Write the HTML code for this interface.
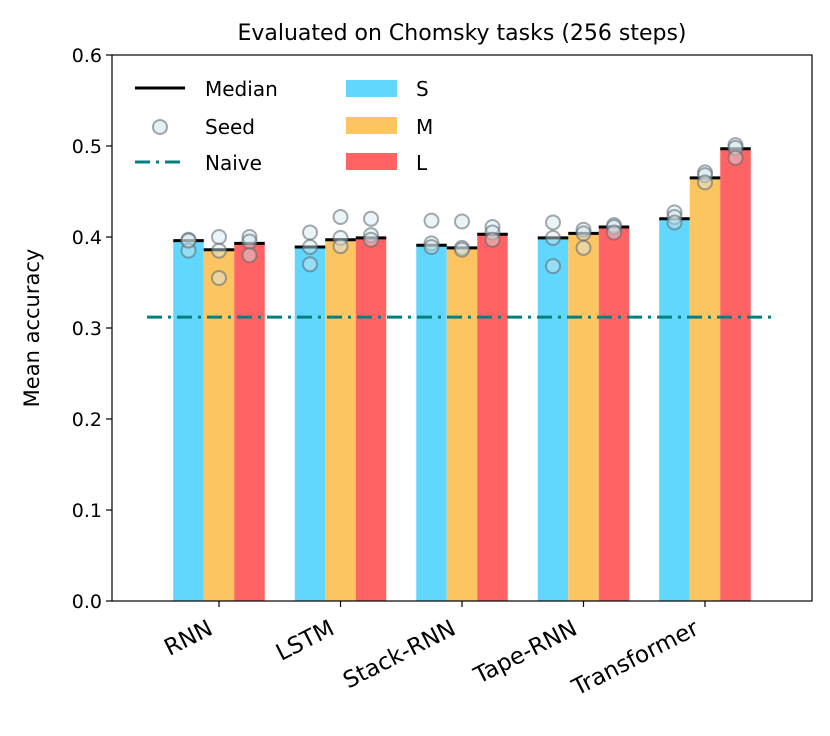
<!DOCTYPE html>
<html><head><meta charset="utf-8"><style>
body{margin:0;background:#fff}
svg text{font-family:"DejaVu Sans","Liberation Sans",sans-serif;fill:#000}
</style></head><body>
<svg id="chart" width="830" height="731" xmlns="http://www.w3.org/2000/svg">
<text x="462" y="40" font-size="22" text-anchor="middle">Evaluated on Chomsky tasks (256 steps)</text>
<text transform="translate(39,328) rotate(-90)" font-size="21" text-anchor="middle">Mean accuracy</text>
<g id="bars"></g><g id="medians"></g><g id="seeds"></g><g id="naive"></g><g id="axes"></g>
<g>
<line x1="135" y1="88" x2="185" y2="88" stroke="#000" stroke-width="3"/>
<text x="205" y="96" font-size="20">Median</text>
<circle cx="160" cy="127" r="7" fill="rgba(210,230,238,0.6)" stroke="rgba(100,110,120,0.6)" stroke-width="2"/>
<text x="205" y="134" font-size="20">Seed</text>
<line x1="135" y1="162" x2="185" y2="162" stroke="#008080" stroke-width="3" stroke-dasharray="15,6,3,6"/>
<text x="205" y="170" font-size="20">Naive</text>
<rect x="346" y="80" width="51" height="17" fill="#62d7fd"/>
<text x="416" y="96" font-size="20">S</text>
<rect x="346" y="117" width="51" height="17" fill="#fdc562"/>
<text x="416" y="134" font-size="20">M</text>
<rect x="346" y="153" width="51" height="17" fill="#ff6363"/>
<text x="416" y="170" font-size="20">L</text>
</g>
</svg>
<script>
const categories=["RNN","LSTM","Stack-RNN","Tape-RNN","Transformer"];
const sizes=["S","M","L"];
const medianS=[0.396,0.389,0.391,0.399,0.420];
const medianM=[0.386,0.397,0.388,0.404,0.465];
const medianL=[0.393,0.399,0.403,0.411,0.497];
const seedsS=[[0.397,0.385,0.396],[0.405,0.389,0.370],[0.418,0.393,0.389],[0.416,0.399,0.368],[0.427,0.422,0.416]];
const seedsM=[[0.400,0.385,0.355],[0.422,0.399,0.390],[0.417,0.388,0.386],[0.408,0.404,0.388],[0.471,0.468,0.460]];
const seedsL=[[0.400,0.395,0.380],[0.420,0.402,0.397],[0.411,0.405,0.397],[0.413,0.411,0.405],[0.501,0.498,0.487]];
const naive=0.312;
const yTicks=[0,0.1,0.2,0.3,0.4,0.5,0.6];
const colors=["#62d7fd","#fdc562","#ff6363"];
const NS="http://www.w3.org/2000/svg";
const L=112,R=812,T=55,B=601;
const y=v=>B-(v/0.6)*(B-T);
const xc=i=>219+i*121.5;
const bw=30.5;
function mk(tag,attrs,parent){const e=document.createElementNS(NS,tag);for(const k in attrs)e.setAttribute(k,attrs[k]);document.getElementById(parent).appendChild(e);return e;}
const meds=[medianS,medianM,medianL],seeds=[seedsS,seedsM,seedsL];
categories.forEach((c,i)=>{
  for(let s=0;s<3;s++){
    const cx=xc(i)+(s-1)*bw;
    const b=mk("rect",{x:cx-bw/2,y:y(meds[s][i]),width:bw,height:B-y(meds[s][i]),fill:colors[s]},"bars");
    
    
    const m=mk("line",{x1:cx-bw/2,x2:cx+bw/2,y1:y(meds[s][i]),y2:y(meds[s][i]),stroke:"#000","stroke-width":3},"medians");
    
    
    seeds[s][i].forEach(v=>{
      const p=mk("circle",{cx:cx,cy:y(v),r:7,fill:"rgba(210,230,238,0.45)",stroke:"rgba(90,100,110,0.55)","stroke-width":2},"seeds");
      
      
    });
  }
  const t=mk("line",{x1:xc(i),x2:xc(i),y1:B,y2:B+6,stroke:"#000","stroke-width":1.2},"axes");
  
  
  const lb=mk("text",{transform:`translate(${xc(i)-12},${B+18}) rotate(-27)`,"font-size":23,"text-anchor":"end","dominant-baseline":"hanging"},"axes");
  lb.textContent=c;
  
  
});
const nl=mk("line",{x1:L+35,x2:R-35,y1:y(naive),y2:y(naive),stroke:"#008080","stroke-width":3,"stroke-dasharray":"15,6,3,6"},"naive");


yTicks.forEach(v=>{
  const t=mk("line",{x1:L-6,x2:L,y1:y(v),y2:y(v),stroke:"#000","stroke-width":1.2},"axes");
  
  
  const lb=mk("text",{x:L-10,y:y(v)+7,"font-size":19,"text-anchor":"end"},"axes");
  lb.textContent=v.toFixed(1);
  
  
});
const fr=mk("rect",{x:L,y:T,width:R-L,height:B-T,fill:"none",stroke:"#000","stroke-width":1.2},"axes");


</script>
</body></html>
